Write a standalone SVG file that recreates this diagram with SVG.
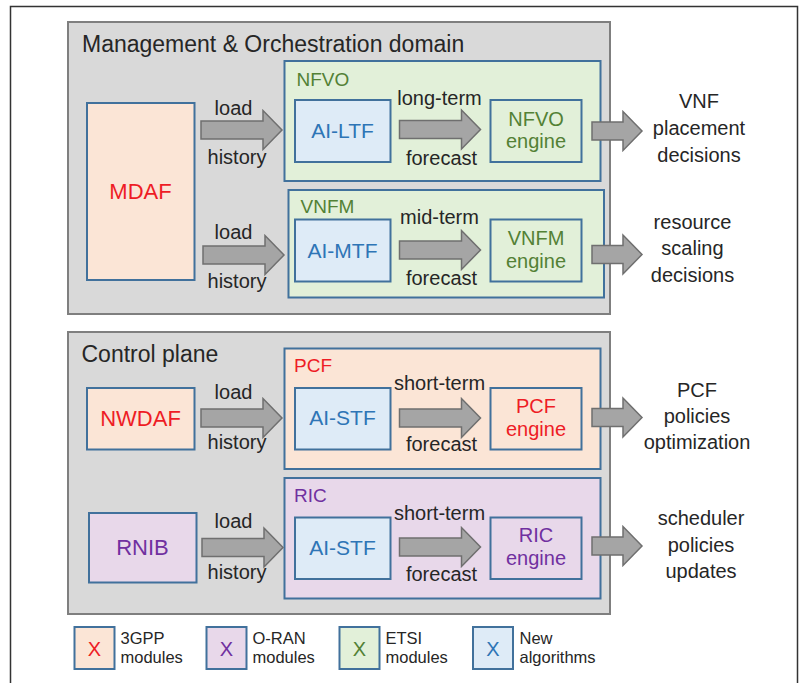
<svg xmlns="http://www.w3.org/2000/svg" width="804" height="683" viewBox="0 0 804 683">
<defs>
<style>
text{font-family:"Liberation Sans",Arial,sans-serif;fill:#262626}
.dom{fill:#d9d9d9;stroke:#7f7f7f;stroke-width:2}
.box{stroke:#41719c;stroke-width:2}
.peach{fill:#fbe5d6}.green{fill:#e2f0d9}.purple{fill:#e8d8ea}.blue{fill:#deebf7}
.arr{fill:#a5a5a5;stroke:#6f6f6f;stroke-width:1.5}
.t22{font-size:22px}.t21{font-size:21px}.t20{font-size:20px}.t19{font-size:19px}.t23{font-size:23px}.t18{font-size:16.5px}
.m{text-anchor:middle}
text.red{fill:#ee1c25}text.grn{fill:#538135}text.pur{fill:#7030a0}text.blu{fill:#2e75b6}
</style>
<path id="arrL" d="M0,-9 H62 V-19.5 L81,0 L62,19.5 V9 H0 Z"/>
<path id="arrS" d="M0,-9 H31 V-19.5 L50,0 L31,19.5 V9 H0 Z"/>
</defs>
<rect x="10.5" y="6.5" width="787" height="700" fill="#fff" stroke="#333" stroke-width="1.5"/>

<g id="mano-domain">
<rect class="dom" x="68" y="22" width="542" height="292"/>
<text class="t23" x="82" y="52">Management &amp; Orchestration domain</text>
</g>
<g id="control-plane">
<rect class="dom" x="68" y="332" width="542" height="282"/>
<text class="t23" x="81.5" y="361.5">Control plane</text>
</g>

<g id="nfvo">
<rect class="box green" x="284.5" y="61" width="316" height="120"/>
<text class="t19 grn" x="296.5" y="86">NFVO</text>
</g>
<g id="vnfm">
<rect class="box green" x="288.5" y="190" width="315.5" height="107.5"/>
<text class="t19 grn" x="300.5" y="212.5">VNFM</text>
</g>
<g id="pcf">
<rect class="box peach" x="284.5" y="348.5" width="316" height="120.5"/>
<text class="t19 red" x="294" y="371.5">PCF</text>
</g>
<g id="ric">
<rect class="box purple" x="284.5" y="478" width="316" height="120.5"/>
<text class="t19 pur" x="294" y="501.5">RIC</text>
</g>

<g id="mdaf">
<rect class="box peach" x="87" y="103" width="107.5" height="177"/>
<text class="t22 m red" x="140.5" y="199">MDAF</text>
</g>
<g id="nwdaf">
<rect class="box peach" x="87" y="388" width="107.5" height="61.5"/>
<text class="t22 m red" x="140.5" y="426">NWDAF</text>
</g>
<g id="rnib">
<rect class="box purple" x="89" y="513" width="107.5" height="69.5"/>
<text class="t22 m pur" x="142.5" y="555">RNIB</text>
</g>

<g id="ai-ltf">
<rect class="box blue" x="295" y="100" width="95.5" height="62"/>
<text class="t21 m blu" x="342.5" y="137.5">AI-LTF</text>
</g>
<g id="ai-mtf">
<rect class="box blue" x="295" y="219.5" width="95.5" height="62"/>
<text class="t21 m blu" x="342.5" y="257.5">AI-MTF</text>
</g>
<g id="ai-stf-pcf">
<rect class="box blue" x="295" y="388" width="95.5" height="61.5"/>
<text class="t21 m blu" x="342.5" y="425">AI-STF</text>
</g>
<g id="ai-stf-ric">
<rect class="box blue" x="295" y="517.5" width="95.5" height="61.5"/>
<text class="t21 m blu" x="342.5" y="555">AI-STF</text>
</g>

<g id="nfvo-engine">
<rect class="box green" x="490.5" y="100" width="91" height="62"/>
<text class="t20 m grn" x="536" y="125.5">NFVO</text>
<text class="t20 m grn" x="536" y="147.5">engine</text>
</g>
<g id="vnfm-engine">
<rect class="box green" x="490.5" y="219.5" width="91" height="62"/>
<text class="t20 m grn" x="536" y="245">VNFM</text>
<text class="t20 m grn" x="536" y="267.5">engine</text>
</g>
<g id="pcf-engine">
<rect class="box peach" x="490.5" y="388" width="91" height="61.5"/>
<text class="t20 m red" x="536" y="412.5">PCF</text>
<text class="t20 m red" x="536" y="436">engine</text>
</g>
<g id="ric-engine">
<rect class="box purple" x="490.5" y="517.5" width="91" height="61.5"/>
<text class="t20 m pur" x="536" y="541.5">RIC</text>
<text class="t20 m pur" x="536" y="565">engine</text>
</g>

<g id="connectors">
<use href="#arrL" class="arr" transform="translate(201,130)"/>
<use href="#arrL" class="arr" transform="translate(203,255)"/>
<use href="#arrL" class="arr" transform="translate(201,418)"/>
<use href="#arrL" class="arr" transform="translate(202,547.5)"/>
<use href="#arrL" class="arr" transform="translate(399.5,129.5)"/>
<use href="#arrL" class="arr" transform="translate(399.5,250)"/>
<use href="#arrL" class="arr" transform="translate(399.5,418)"/>
<use href="#arrL" class="arr" transform="translate(399.5,547)"/>
<use href="#arrS" class="arr" transform="translate(592,131)"/>
<use href="#arrS" class="arr" transform="translate(592,254.5)"/>
<use href="#arrS" class="arr" transform="translate(592,417.5)"/>
<use href="#arrS" class="arr" transform="translate(592,546)"/>
<g class="t20 m">
<text class="m" x="233.5" y="114.5">load</text>
<text class="m" x="237" y="164">history</text>
<text class="m" x="233.5" y="238.5">load</text>
<text class="m" x="237" y="288">history</text>
<text class="m" x="233.5" y="398.5">load</text>
<text class="m" x="237" y="448.5">history</text>
<text class="m" x="233.5" y="527.5">load</text>
<text class="m" x="237" y="578.5">history</text>
<text class="m" x="439.5" y="104.5">long-term</text>
<text class="m" x="441.5" y="165">forecast</text>
<text class="m" x="439.5" y="223.5">mid-term</text>
<text class="m" x="441.5" y="284.5">forecast</text>
<text class="m" x="439.5" y="390">short-term</text>
<text class="m" x="441.5" y="451">forecast</text>
<text class="m" x="439.5" y="519.5">short-term</text>
<text class="m" x="441.5" y="580.5">forecast</text>
</g>
</g>

<g id="outputs" class="t20">
<text class="m" x="699" y="108">VNF</text>
<text class="m" x="699" y="135">placement</text>
<text class="m" x="699" y="161.5">decisions</text>
<text class="m" x="692.5" y="228.5">resource</text>
<text class="m" x="692.5" y="254.5">scaling</text>
<text class="m" x="692.5" y="282">decisions</text>
<text class="m" x="697" y="396.5">PCF</text>
<text class="m" x="697" y="423">policies</text>
<text class="m" x="697" y="449">optimization</text>
<text class="m" x="701" y="525">scheduler</text>
<text class="m" x="701" y="552">policies</text>
<text class="m" x="701" y="578">updates</text>
</g>

<g id="legend">
<g id="legend-3gpp">
<rect class="box peach" x="74.5" y="627" width="40" height="42"/>
<text class="t20 m red" x="94.5" y="656">X</text>
<text class="t18" x="120.5" y="644">3GPP</text>
<text class="t18" x="120.5" y="663">modules</text>
</g>
<g id="legend-oran">
<rect class="box purple" x="206.5" y="627" width="40" height="42"/>
<text class="t20 m pur" x="226.5" y="656">X</text>
<text class="t18" x="252.5" y="644">O-RAN</text>
<text class="t18" x="252.5" y="663">modules</text>
</g>
<g id="legend-etsi">
<rect class="box green" x="339.5" y="627" width="40" height="42"/>
<text class="t20 m grn" x="359.5" y="656">X</text>
<text class="t18" x="385.5" y="644">ETSI</text>
<text class="t18" x="385.5" y="663">modules</text>
</g>
<g id="legend-new">
<rect class="box blue" x="473" y="627" width="40" height="42"/>
<text class="t20 m blu" x="493" y="656">X</text>
<text class="t18" x="519.5" y="644">New</text>
<text class="t18" x="519.5" y="663">algorithms</text>
</g>
</g>
</svg>
